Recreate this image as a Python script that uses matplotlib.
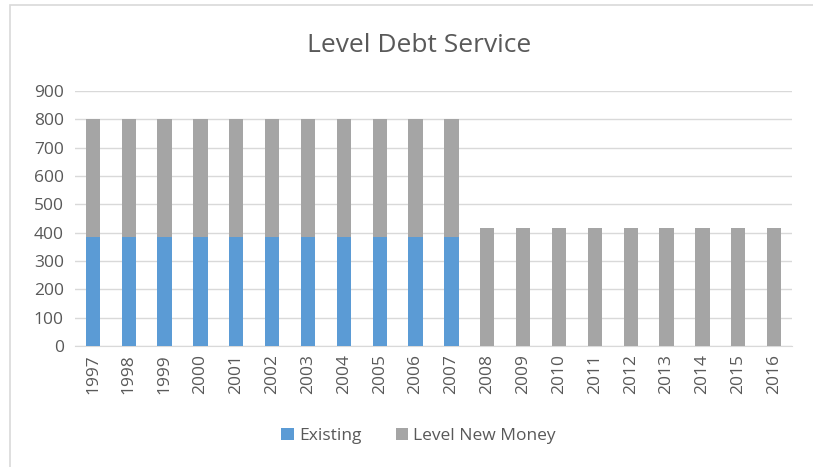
import matplotlib.pyplot as plt
from matplotlib.patches import Rectangle

# Data
years = [str(y) for y in range(1997, 2017)]
existing = [383] * 11 + [0] * 9
new_money = [417] * 20

plt.rcParams['font.family'] = ['Open Sans', 'DejaVu Sans']

fig = plt.figure(figsize=(8.13, 4.67), dpi=100)
ax = fig.add_axes([75 / 813, 1 - 346 / 467, 717 / 813, 255 / 467])

# chart border
fig.patches.append(Rectangle((10 / 813, -0.1), 1.2, 1.1 - 5 / 467, transform=fig.transFigure,
                             fill=False, edgecolor='#d9d9d9', linewidth=1.2))

x = range(len(years))
ax.bar(x, existing, width=0.4, color='#5b9bd5', label='Existing', zorder=3)
ax.bar(x, new_money, width=0.4, bottom=existing, color='#a5a5a5', label='Level New Money', zorder=3)

ax.set_xlim(-0.5, len(years) - 0.5)
ax.set_ylim(0, 900)
ax.set_yticks(range(0, 901, 100))
ax.set_xticks(list(x))
ax.set_xticklabels(years, rotation=90)
ax.grid(axis='y', color='#d9d9d9', linewidth=1, zorder=0)
for s in ['top', 'right', 'left']:
    ax.spines[s].set_visible(False)
ax.spines['bottom'].set_color('#d9d9d9')
ax.tick_params(length=0, labelsize=12.5, labelcolor='#595959')
ax.tick_params(axis='y', pad=8)
ax.tick_params(axis='x', pad=6)

fig.text(0.515, 1 - 45 / 467, 'Level Debt Service', ha='center', va='center',
         fontsize=19, color='#595959')

fig.legend(loc='center', bbox_to_anchor=(0.515, 1 - 436 / 467), ncol=2, frameon=False,
           handlelength=0.7, handleheight=0.7, handletextpad=0.3, columnspacing=2.0,
           prop={'size': 12.5}, labelcolor='#595959')

fig.savefig('out.png', dpi=100)
